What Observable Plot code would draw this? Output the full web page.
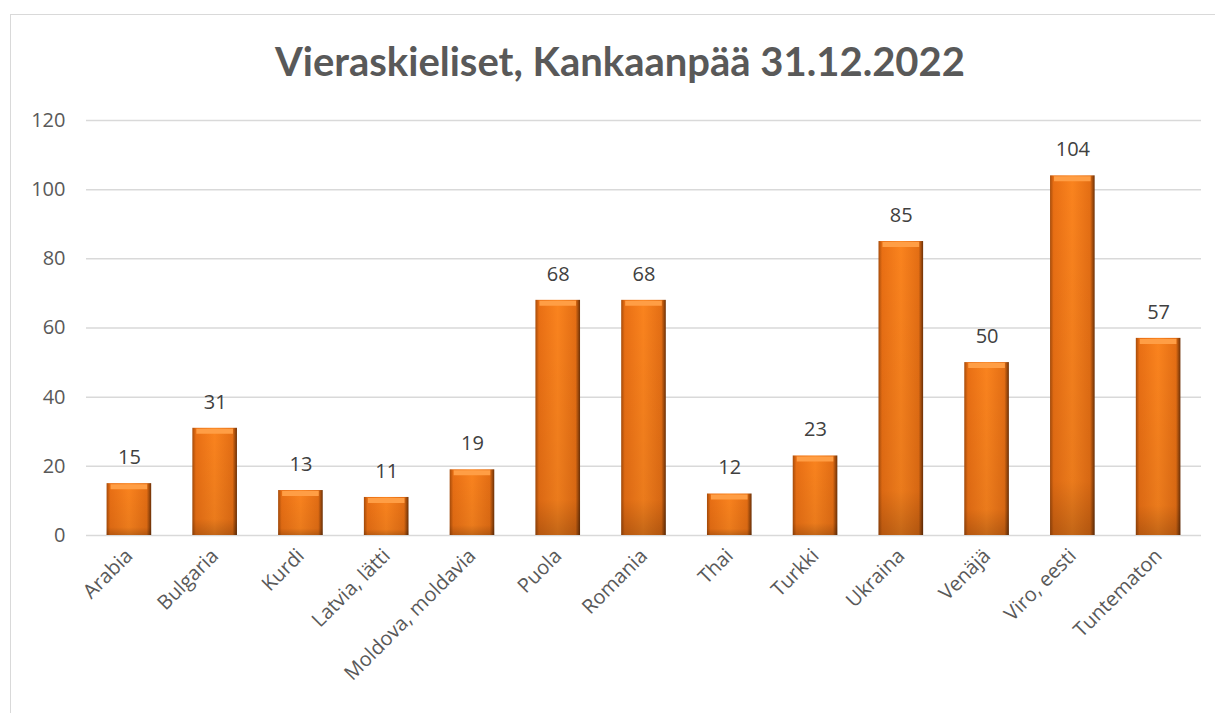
<!DOCTYPE html>
<html><head><meta charset="utf-8">
<script src="https://cdn.jsdelivr.net/npm/d3@7"></script>
<script src="https://cdn.jsdelivr.net/npm/@observablehq/plot@0.6"></script>
<style>
html,body{margin:0;padding:0;background:#fff;overflow:hidden;}
#wrap{position:relative;width:1215px;height:713px;font-family:Lato,"Open Sans",sans-serif;}
#frame{position:absolute;left:10px;top:14px;width:1220px;height:720px;border:1px solid #d9d9d9;box-sizing:border-box;}
#title{position:absolute;left:0;top:37px;width:1240px;text-align:center;font-size:40px;font-weight:bold;color:#595959;}
#chart{position:absolute;left:0;top:100px;}
</style></head>
<body><div id="wrap"><div id="frame"></div><div id="title">Vieraskieliset, Kankaanpää 31.12.2022</div><div id="chart"></div></div>
<script>
const categories = ["Arabia","Bulgaria","Kurdi","Latvia, lätti","Moldova, moldavia","Puola","Romania","Thai","Turkki","Ukraina","Venäjä","Viro, eesti","Tuntematon"];
const values = [15,31,13,11,19,68,68,12,23,85,50,104,57];
const yTicks = [0,20,40,60,80,100,120];
const data = categories.map((c,i)=>({cat:c, v:values[i]}));

const plot = Plot.plot({
  width: 1215, height: 613,
  marginTop: 20, marginBottom: 178, marginLeft: 86, marginRight: 14,
  style: {fontFamily: "'Open Sans', Lato, sans-serif", color: "#595959", background: "transparent"},
  x: {domain: categories, paddingInner: 0.48, paddingOuter: 0.24, align: 0.5, round: false},
  y: {domain: [0,120]},
  marks: [
    Plot.gridY(yTicks, {stroke: "#d9d9d9", strokeOpacity: 1, strokeWidth: 1.5}),
    Plot.axisY(yTicks, {label: null, tickSize: 0, tickPadding: 21, fontSize: 20, fill: "#595959"}),
    Plot.axisX({label: null, tickSize: 0, tickPadding: 17, tickRotate: -45, fontSize: 20, fill: "#595959"}),
    Plot.barY(data, {x: "cat", y: "v", fill: "url(#barGrad)"}),
    Plot.barY(data, {x: "cat", y: "v", fill: "url(#shadeGrad)"}),
    Plot.tickY(data, {x: "cat", y: "v", stroke: "#ff9e45", strokeWidth: 5, dy: 3, inset: 4}),
    Plot.text(data, {x: "cat", y: "v", text: d => String(d.v), dy: -26, fill: "#404040", fontSize: 20})
  ]
});
const ns = "http://www.w3.org/2000/svg";
const defs = document.createElementNS(ns, "defs");
defs.innerHTML = `
<linearGradient id="barGrad" x1="0" y1="0" x2="1" y2="0">
 <stop offset="0" stop-color="#a84c0a"/>
 <stop offset="0.08" stop-color="#e96f14"/>
 <stop offset="0.5" stop-color="#fa831e"/>
 <stop offset="0.9" stop-color="#e46e14"/>
 <stop offset="1" stop-color="#6e3106"/>
</linearGradient>
<linearGradient id="shadeGrad" x1="0" y1="0" x2="0" y2="1">
 <stop offset="0" stop-color="#000" stop-opacity="0"/>
 <stop offset="0.85" stop-color="#000" stop-opacity="0.06"/>
 <stop offset="1" stop-color="#000" stop-opacity="0.22"/>
</linearGradient>`;
plot.insertBefore(defs, plot.firstChild);
document.getElementById("chart").appendChild(plot);
</script></body></html>
